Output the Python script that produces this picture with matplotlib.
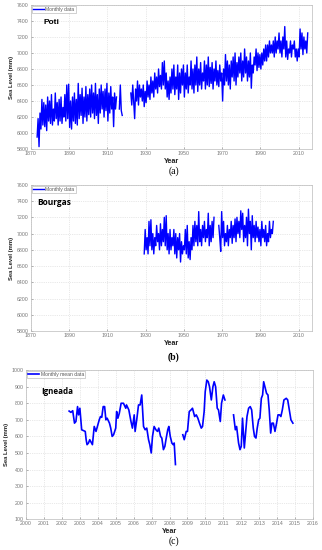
import numpy as np
import matplotlib
matplotlib.use("Agg")
import matplotlib.pyplot as plt

nan = np.nan

# ---- Poti: two readings per year (low, high), starting 1873 ----
poti_start = 1873
poti_levels = [
    5950, 6180, 5830, 6250, 6050, 6420, 6100, 6380, 6080, 6350, 6030, 6450, 6150, 6400,
    6120, 6480, 6100, 6300, 6150, 6500, 6180, 6380, 6100, 6420, 6150, 6450, 6120, 6320,
    6200, 6480, 6150, 6600, 6180, 6610,
    6070, 6400, 6050, 6450, 6150, 6500, 6120, 6420, 6100, 6620, 6180, 6480, 6220, 6560,
    6120, 6450, 6200, 6580, 6150, 6480,
    6230, 6550, 6200, 6600, 6250, 6500, 6180, 6620, 6220, 6480, 6120, 6550, 6250, 6600,
    6300, 6520, 6200, 6550, 6280, 6620,
    6150, 6500, 6250, 6580, 6300, 6450, 6080, 6500, 6300, 6450, nan, nan, 6300, 6600,
    6280, 6220, nan, nan, nan, nan, nan, nan, nan, nan,
    6500, 6350, 6600, 6400, 6180, 6550, 6400, 6650, 6350, 6600, 6450, 6550, 6400, 6600,
    6330, 6520,
    6380, 6650, 6450, 6600, 6420, 6700, 6500, 6650, 6450, 6750, 6550, 6700, 6500, 6800,
    6580, 6720, 6550, 6880, 6600, 6900,
    6550, 6750, 6450, 6650, 6420, 6700, 6500, 6800, 6550, 6850, 6480, 6700, 6550, 6850,
    6420, 6750, 6500, 6800, 6600, 6850,
    6450, 6750, 6550, 6850, 6500, 6700, 6600, 6900, 6550, 6800, 6500, 6850, 6600, 6950,
    6520, 6800, 6600, 6880, 6550, 6750,
    6650, 6900, 6550, 6850, 6600, 6950, 6580, 6820, 6620, 6880, 6550, 6800, 6650, 6900,
    6600, 6780, 6580, 6850, 6650, 6750,
    6400, 6800, 6600, 6980, 6650, 6900, 6600, 6850, 6550, 6900, 6700, 6950, 6650, 7000,
    6600, 6880, 6700, 6950, 6750, 7000,
    6650, 6900, 6700, 7050, 6750, 6950, 6650, 6900, 6700, 7000, 6560, 6850, 6750, 6950,
    6850, 7050, 6780, 7000, 6820, 6980,
    6800, 7000, 6850, 7050, 6900, 7100, 6900, 7100, 6950, 7150, 7000, 7100, 7000, 7150,
    6950, 7200, 7000, 7150, 7050, 7250,
    7000, 7150, 6950, 7200, 7050, 7330, 6950, 7150, 6920, 7050, 7000, 7150, 6950, 7100,
    7050, 7150, 6950, 7050, 6900, 7050,
    6950, 7300, 7050, 7250, 6980, 7200, 7050, 7150, 7000, 7250,
]

# ---- Bourgas: two readings per year (low, high), starting 1929 ----
bourgas_start = 1929
bourgas_levels = [
    6750, 7050,
    6800, 6950, 6750, 7150, 6850, 7170, 6800, 7000, 6750, 6950, 6850, 7100, 6900, 7000,
    6800, 7120, 6850, 7050, 6900, 7200,
    6850, 7220, 6800, 7000, 6750, 7050, 6800, 6950, 6850, 7050, 6750, 7000, 6700, 6950,
    6800, 7000, 6650, 6900, 6750, 6850,
    6800, 7050, 6750, 7100, 6700, 6900, 6680, 6950, 6800, 7100, 6850, 7150, 6900, 7100,
    6850, 7270, 6900, 7050, 6850, 7100,
    6950, 7150, 6900, 7050, 6950, 7250, 6850, 7100, 6900, 7150, 6950, 7200, nan, nan,
    nan, nan, 7100, 6950, 6780, 7270,
    6950, 7150, 6850, 7000, 6900, 7100, 6850, 7050, 6950, 7150, 6880, 7100, 6950, 7180,
    6900, 7200, 7000, 7150, 6950, 7280,
    7050, 7250, 6900, 7100, 6950, 7200, 6850, 7300, 7000, 7150, 6800, 7220, 6950, 7100,
    6900, 7150, 6950, 7080, 6900, 7050,
    6850, 7150, 6950, 7050, 6900, 7100, 6850, 7000, 6900, 7150, 6950, 7050, 7000, 7150,
]

# ---- Igneada: monthly mean data ----
igneada_years = [
    2002.40, 2002.50, 2002.60, 2002.70, 2002.78, 2002.87, 2002.93, 2003.00, 2003.10,
    2003.30, 2003.35, 2003.40, 2003.48, 2003.55, 2003.70, 2003.80, 2003.90, 2004.00,
    2004.08, 2004.15, 2004.22, 2004.30, 2004.38, 2004.45, 2004.52, 2004.65, 2004.72,
    2004.80, 2004.88, 2005.00, 2005.05, 2005.12, 2005.20, 2005.30, 2005.43, 2005.56,
    2005.60, 2005.73, 2005.85, 2005.93, 2006.03, 2006.08, 2006.17, 2006.27, 2006.36,
    2006.45, 2006.55, 2006.64, 2006.73, 2006.83, 2006.90, 2006.98, 2007.05, 2007.14,
    2007.24, 2007.33, 2007.40, 2007.50, 2007.57, 2007.66, 2007.74, 2007.80, 2007.90,
    2007.96, 2008.04, 2008.13, 2008.20, 2008.26, 2008.33, 2008.50,
    2008.74, 2008.82, 2008.93, 2009.00, 2009.10, 2009.20, 2009.28, 2009.40, 2009.49,
    2009.58, 2009.67, 2009.77, 2009.84, 2009.93, 2009.99, 2010.08, 2010.16, 2010.23,
    2010.33, 2010.42, 2010.49, 2010.57, 2010.66, 2010.73, 2010.83, 2010.90, 2011.00,
    2011.09, 2011.30,
    2011.57, 2011.67, 2011.74, 2011.85, 2011.93, 2012.00, 2012.07, 2012.17, 2012.24,
    2012.32, 2012.41, 2012.50, 2012.58, 2012.67, 2012.74, 2012.82, 2012.89, 2012.97,
    2013.04, 2013.12, 2013.19, 2013.25, 2013.34, 2013.41, 2013.49, 2013.56, 2013.64,
    2013.71, 2013.79, 2013.88, 2013.97, 2014.05, 2014.14, 2014.21, 2014.29, 2014.38,
    2014.51, 2014.59, 2014.68, 2014.77, 2014.88,
]
igneada_levels = [
    753, 745, 755, 680, 690, 780, 730, 770, 640,
    630, 580, 550, 560, 580, 550, 660, 630, 670,
    700, 720, 715, 780, 780, 700, 710, 680, 650,
    600, 610, 650, 750, 710, 740, 800, 800, 770,
    790, 760, 690, 650, 730, 630, 700, 790, 790,
    850, 660, 640, 650, 580, 550, 500, 600, 660,
    640, 630, 650, 600, 590, 520, 540, 580, 640,
    660, 600, 560, 550, 560, 430, nan,
    610, 580, 630, 630, 750, 760, 770, 720, 730,
    710, 680, 650, 660, 750, 870, 940, 930, 900,
    820, 900, 930, 900, 770, 760, 690, 800, 850,
    820, nan,
    730, 640, 660, 560, 520, 540, 710, 530, 620,
    720, 770, 780, 760, 650, 600, 590, 650, 700,
    710, 830, 850, 930, 890, 860, 850, 760, 620,
    680, 680, 630, 680, 730, 730, 720, 760, 820,
    830, 820, 760, 700, 680,
]

poti_x = poti_start + 0.5 * np.arange(len(poti_levels)) + 0.25
bourgas_x = bourgas_start + 0.5 * np.arange(len(bourgas_levels)) + 0.25

BLUE = "#0000ff"
TICK_C = "#777777"
GRID_C = "#d2d2d2"
sans = ["Liberation Sans", "DejaVu Sans"]
title_font = ["Open Sans", "DejaVu Sans"]

fig = plt.figure(figsize=(3.22, 5.50), dpi=100)


def style(ax, xticks, yticks, xlim, ylim):
    ax.set_xlim(*xlim)
    ax.set_ylim(*ylim)
    ax.set_xticks(xticks)
    ax.set_yticks(yticks)
    ax.tick_params(direction="in", length=1.5, width=0.4, labelsize=3.8,
                   colors=TICK_C, pad=1.5)
    for lab in ax.get_xticklabels() + ax.get_yticklabels():
        lab.set_family(sans)
    ax.grid(True, color=GRID_C, linestyle=":", linewidth=0.5)
    for s in ax.spines.values():
        s.set_color("#bbbbbb")
        s.set_linewidth(0.5)
    ax.set_ylabel("Sea Level (mm)", fontsize=4.2, fontweight="bold", labelpad=2,
                  family=sans, color="#222222")
    ax.set_xlabel("Year", fontsize=5.2, fontweight="bold", labelpad=1,
                  family=sans, color="#222222")


def legend(ax, label):
    leg = ax.legend([label], loc="upper left", frameon=True,
                    handlelength=2.2, borderpad=0.25, borderaxespad=0.15,
                    handletextpad=0.3, fancybox=False, prop={"family": sans, "size": 3.6})
    leg.get_frame().set_edgecolor("#999999")
    leg.get_frame().set_linewidth(0.4)
    for t in leg.get_texts():
        t.set_color("#555555")


# (a) Poti
ax1 = fig.add_axes([0.096, 0.729, 0.873, 0.262])
ax1.plot(poti_x, poti_levels, color=BLUE, linewidth=1.0)
style(ax1, range(1870, 2011, 20), range(5800, 7601, 200), (1870, 2017), (5800, 7600))
legend(ax1, "Monthly data")
ax1.text(0.045, 0.88, "Poti", transform=ax1.transAxes, fontsize=6,
         fontweight="bold", family=sans, va="center")
fig.text(0.54, 0.689, "(a)", ha="center", va="center", fontsize=7,
         family=["Liberation Serif", "DejaVu Serif"])

# (b) Bourgas
ax2 = fig.add_axes([0.096, 0.398, 0.873, 0.266])
ax2.plot(bourgas_x, bourgas_levels, color=BLUE, linewidth=1.0)
style(ax2, range(1870, 2011, 20), range(5800, 7601, 200), (1870, 2017), (5800, 7600))
legend(ax2, "Monthly data")
ax2.text(0.022, 0.88, "Bourgas", transform=ax2.transAxes, fontsize=6,
         fontweight="bold", family=title_font, va="center")
fig.text(0.54, 0.351, "(b)", ha="center", va="center", fontsize=7,
         fontweight="bold", family=["Liberation Serif", "DejaVu Serif"])

# (c) Igneada
ax3 = fig.add_axes([0.081, 0.056, 0.891, 0.271])
ax3.plot(igneada_years, igneada_levels, color=BLUE, linewidth=1.2)
style(ax3, range(2000, 2017), range(100, 1001, 100), (2000, 2016), (100, 1000))
legend(ax3, "Monthly mean data")
ax3.text(0.052, 0.855, "Igneada", transform=ax3.transAxes, fontsize=5.8,
         fontweight="bold", family=title_font, va="center")
fig.text(0.54, 0.007, "(c)", ha="center", va="bottom", fontsize=7,
         family=["Liberation Serif", "DejaVu Serif"])

fig.savefig("out.png", dpi=100)
